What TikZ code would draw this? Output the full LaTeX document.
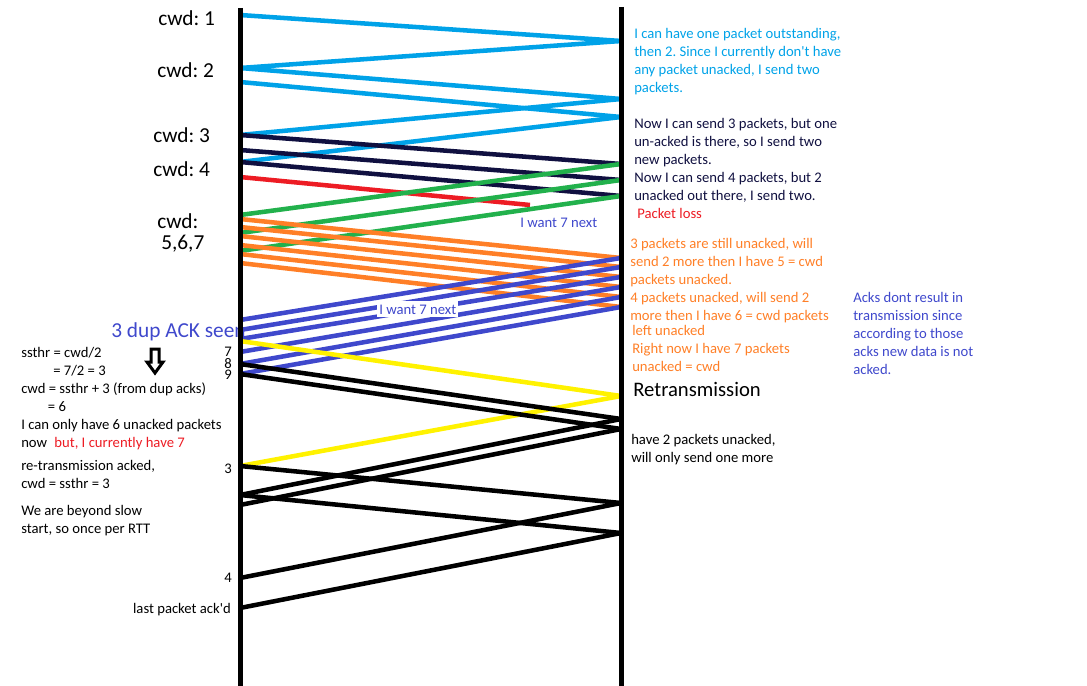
\documentclass[tikz,border=0pt]{standalone}
\usepackage{fontspec}
\setmainfont{Carlito}
\frenchspacing

\definecolor{pktcyan}{HTML}{00A2E8}
\definecolor{pktnavy}{RGB}{16,16,64}
\definecolor{pktred}{HTML}{ED1C24}
\definecolor{pktgreen}{HTML}{22B14C}
\definecolor{pktorange}{HTML}{FF7F27}
\definecolor{pktblue}{HTML}{3F48CC}
\definecolor{pktyellow}{HTML}{FFF200}

\begin{document}
\begin{tikzpicture}[x=0.75pt,y=-0.75pt,
  timeline/.style={line width=3.75pt},
  pkt/.style={line width=3.4pt},
  note/.style={anchor=base west,inner sep=0pt,align=left,font=\fontsize{11}{13.5}\selectfont},
  bignote/.style={anchor=base west,inner sep=0pt,align=left,font=\fontsize{16}{15.75}\selectfont},
  seqno/.style={anchor=base east,inner sep=0pt,font=\fontsize{11}{13.5}\selectfont}]

\useasboundingbox (0,0) rectangle (1087,685);

\node[bignote] (cwd1) at (158,26) {cwd: 1};
\node[bignote] (cwd2) at (157,77) {cwd: 2};
\node[bignote] (cwd3) at (153,142) {cwd: 3};
\node[bignote] (cwd4) at (153,176) {cwd: 4};
\node[bignote] (cwd5) at (157,249) {cwd:\\\hspace*{3pt}5,6,7};
\node[bignote,text=pktblue] (dupseen) at (111,337) {3 dup ACK seen};

\node[note] (ssthr) at (21,447) {ssthr = cwd/2\\\hspace*{24pt}= 7/2 = 3\\cwd = ssthr + 3 (from dup acks)\\\hspace*{20pt}= 6\\I can only have 6 unacked packets\\now\hspace{3pt} \textcolor{pktred}{but, I currently have 7}};
\node[note] (retxack) at (21,488) {re-transmission acked,\\cwd = ssthr = 3};
\node[note] (beyond) at (21,533) {We are beyond slow\\start, so once per RTT};

\node[seqno] (n7) at (232,356) {7};
\node[seqno] (n8) at (232,368) {8};
\node[seqno] (n9) at (232,379) {9};
\node[seqno] (n3) at (232,473) {3};
\node[seqno] (n4) at (232,582) {4};
\node[seqno] (lastack) at (231,613) {last packet ack\textquotesingle d};

\node[note,text=pktcyan] (onetwo) at (634,93) {I can have one packet outstanding,\\then 2. Since I currently don\textquotesingle t have\\any packet unacked, I send two\\packets.};
\node[note,text=pktnavy] (sendthree) at (634,200) {Now I can send 3 packets, but one\\un-acked is there, so I send two\\new packets.\\Now I can send 4 packets, but 2\\unacked out there, I send two.};
\node[note,text=pktred] (loss) at (637,218) {Packet loss};
\node[note,text=pktorange] (stillunacked) at (630,320) {3 packets are still unacked, will\\send 2 more then I have 5 = cwd\\packets unacked.\\4 packets unacked, will send 2\\more then I have 6 = cwd packets};
\node[note,text=pktorange] (leftunacked) at (632,335) {left unacked};
\node[note,text=pktorange] (rightnow) at (632,371) {Right now I have 7 packets\\unacked = cwd};
\node[anchor=base west,inner sep=0pt,font=\fontsize{15.5}{18}\selectfont] (retrans) at (633,396) {Retransmission};
\node[note] (onemore) at (631,462) {have 2 packets unacked,\\will only send one more};
\node[note,text=pktblue] (noresult) at (853,374) {Acks dont result in\\transmission since\\according to those\\acks new data is not\\acked.};

\coordinate (s0) at (240,8);
\coordinate (s15) at (240,15);
\coordinate (s68) at (240,68);
\coordinate (s82) at (240,82);
\coordinate (s135) at (240,135);
\coordinate (s150) at (240,150);
\coordinate (s162) at (240,162);
\coordinate (s177) at (240,177);
\coordinate (s215) at (240,215);
\coordinate (s219) at (240,219);
\coordinate (s227) at (240,227);
\coordinate (s233) at (240,233);
\coordinate (s236) at (240,236);
\coordinate (s245) at (240,245);
\coordinate (s251) at (240,251);
\coordinate (s254) at (240,254);
\coordinate (s263) at (240,263);
\coordinate (s320) at (240,320);
\coordinate (s330) at (240,330);
\coordinate (s339) at (240,339);
\coordinate (s341) at (240,341);
\coordinate (s352) at (240,352);
\coordinate (s364) at (240,364);
\coordinate (s374) at (240,374);
\coordinate (s466) at (240,466);
\coordinate (s495) at (240,495);
\coordinate (s505) at (240,505);
\coordinate (s578) at (240,578);
\coordinate (s608) at (240,608);
\coordinate (send) at (240,686);

\coordinate (r0) at (621,7);
\coordinate (r41) at (621,41);
\coordinate (r99) at (621,99);
\coordinate (r117) at (621,117);
\coordinate (r164) at (621,164);
\coordinate (r180) at (621,180);
\coordinate (r196) at (621,196);
\coordinate (r258) at (621,258);
\coordinate (r267) at (621,267);
\coordinate (r277) at (621,277);
\coordinate (r287) at (621,287);
\coordinate (r297) at (621,297);
\coordinate (r307) at (621,307);
\coordinate (r396) at (621,396);
\coordinate (r419) at (621,419);
\coordinate (r429) at (621,429);
\coordinate (r503) at (621,503);
\coordinate (r533) at (621,533);
\coordinate (rend) at (621,686);

\coordinate (lost) at (530,205);

\draw[pkt,pktcyan] (s15)--(r41);
\draw[pkt,pktcyan] (r41)--(s68);
\draw[pkt,pktcyan] (s68)--(r99);
\draw[pkt,pktcyan] (s82)--(r117);
\draw[pkt,pktcyan] (r99)--(s135);
\draw[pkt,pktcyan] (r117)--(s162);

\draw[pkt,pktnavy] (s135)--(r164);
\draw[pkt,pktnavy] (s150)--(r180);
\draw[pkt,pktnavy] (s162)--(r196);

\draw[pkt,pktred] (s177)--(lost);

\draw[pkt,pktgreen] (r164)--(s215);
\draw[pkt,pktgreen] (r180)--(s233);
\draw[pkt,pktgreen] (r196)--(s251);

\draw[pkt,pktorange] (s219)--(r258);
\draw[pkt,pktorange] (s227)--(r267);
\draw[pkt,pktorange] (s236)--(r277);
\draw[pkt,pktorange] (s245)--(r287);
\draw[pkt,pktorange] (s254)--(r297);
\draw[pkt,pktorange] (s263)--(r307);

\draw[pkt,pktblue] (r258)--(s320);
\draw[pkt,pktblue] (r267)--(s330);
\draw[pkt,pktblue] (r277)--(s339);
\draw[pkt,pktblue] (r287)--(s352);
\draw[pkt,pktblue] (r297)--(s364);
\draw[pkt,pktblue] (r307)--(s374);

\draw[pkt,pktyellow] (s341)--(r396);
\draw[pkt,pktyellow] (r396)--(s466);

\draw[pkt] (s364)--(r419);
\draw[pkt] (s374)--(r429);
\draw[pkt] (r419)--(s495);
\draw[pkt] (r429)--(s505);
\draw[pkt] (s466)--(r503);
\draw[pkt] (s495)--(r533);
\draw[pkt] (r503)--(s578);
\draw[pkt] (r533)--(s608);

\node[note,text=pktblue] (want1) at (520,227) {I want 7 next};
\node[note,text=pktblue,fill=white,inner xsep=1.5pt,inner ysep=2.5pt] (want2) at (377,314) {I want 7 next};

\draw[timeline] (s0)--(send);
\draw[timeline] (r0)--(rend);

\draw[line width=2.25pt,line join=miter] (151,349)--(159,349)--(159,362)--(163,362)--(155,373)--(147,362)--(151,362)--cycle;

\end{tikzpicture}
\end{document}
